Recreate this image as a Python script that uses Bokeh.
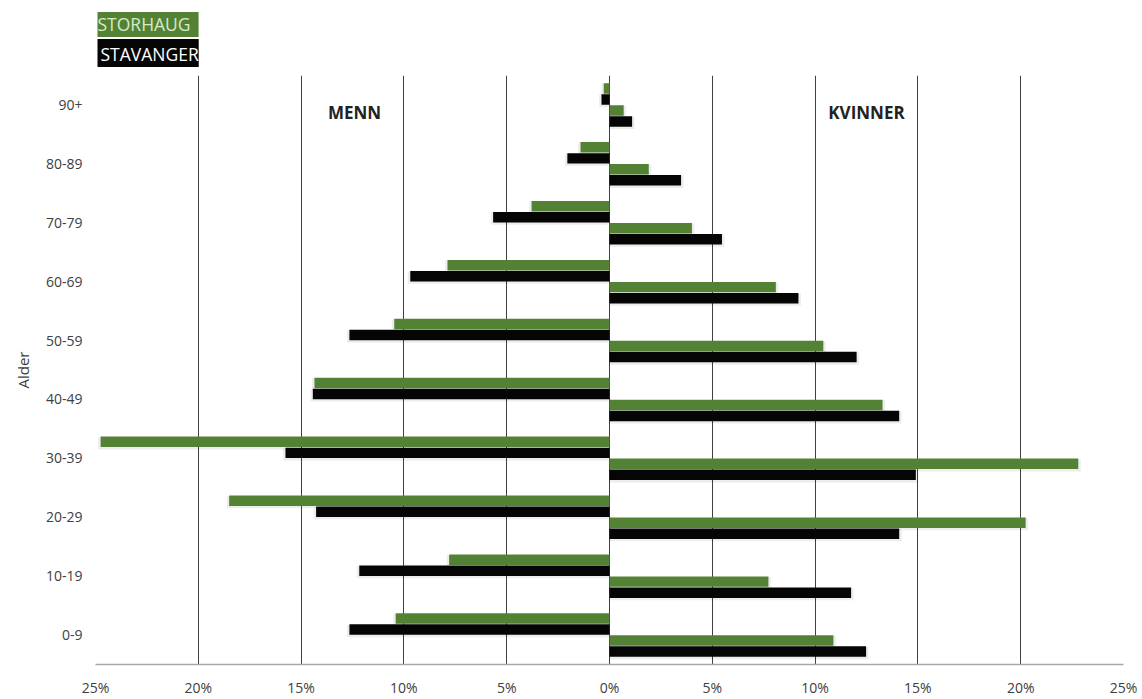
from bokeh.plotting import figure
from bokeh.models import ColumnDataSource, FactorRange, Range1d, FixedTicker, Label, Title
from bokeh.transform import dodge
from bokeh.embed import file_html
from bokeh.resources import INLINE

# ---- data (percent of population) ----
age_groups = ["0-9", "10-19", "20-29", "30-39", "40-49", "50-59", "60-69", "70-79", "80-89", "90+"]
storhaug_menn = [10.4, 7.8, 18.5, 24.75, 14.35, 10.47, 7.88, 3.79, 1.41, 0.28]
stavanger_menn = [12.65, 12.17, 14.27, 15.76, 14.43, 12.65, 9.69, 5.66, 2.05, 0.39]
storhaug_kvinner = [10.89, 7.73, 20.24, 22.8, 13.28, 10.4, 8.09, 4.01, 1.91, 0.69]
stavanger_kvinner = [12.48, 11.75, 14.09, 14.9, 14.09, 12.02, 9.19, 5.47, 3.48, 1.1]
x_ticks = [-25, -20, -15, -10, -5, 0, 5, 10, 15, 20, 25]
series_names = ["STORHAUG", "STAVANGER"]
side_labels = ["MENN", "KVINNER"]
axis_title = "Alder"

GREEN = "#548235"
BLACK = "#050505"
TXT = "#404040"
FONT = "Open Sans"

W, H = 1142, 699
B_LEFT, B_RIGHT, B_TOP, B_BOTTOM = 95, 19, 75, 34
FH = H - B_TOP - B_BOTTOM

src = ColumnDataSource(dict(
    age=age_groups,
    sm=[-v for v in storhaug_menn],
    tm=[-v for v in stavanger_menn],
    sk=storhaug_kvinner,
    tk=stavanger_kvinner,
    sm_sh=[-v - 0.12 for v in storhaug_menn],
    tm_sh=[-v - 0.12 for v in stavanger_menn],
    sk_sh=[v + 0.12 for v in storhaug_kvinner],
    tk_sh=[v + 0.12 for v in stavanger_kvinner],
))

p = figure(width=W, height=H, y_range=FactorRange(factors=age_groups),
           x_range=Range1d(-25, 25), output_backend="svg", toolbar_location=None,
           min_border_left=B_LEFT, min_border_right=B_RIGHT,
           min_border_top=B_TOP, min_border_bottom=B_BOTTOM)
p.outline_line_color = None
p.background_fill_color = "white"
p.border_fill_color = "white"

# bars: (column, offset, colour)
bar_specs = [("sm", 0.28, GREEN), ("tm", 0.093, BLACK), ("sk", -0.093, GREEN), ("tk", -0.28, BLACK)]
BAR_H = 0.178
for col, off, colr in bar_specs:
    p.hbar(y=dodge("age", off - 0.025, range=p.y_range), left=0, right=col + "_sh",
           height=BAR_H + 0.03, source=src, fill_color="#000000", fill_alpha=0.07,
           line_color=None)
for col, off, colr in bar_specs:
    p.hbar(y=dodge("age", off, range=p.y_range), left=0, right=col,
           height=BAR_H, source=src, fill_color=colr, line_color=None)

# x axis
p.xaxis.ticker = FixedTicker(ticks=x_ticks)
p.xaxis.major_label_overrides = {t: f"{abs(t)}%" for t in x_ticks}
p.xaxis.major_tick_out = 0
p.xaxis.major_tick_in = 0
p.xaxis.minor_tick_out = 0
p.xaxis.minor_tick_in = 0
p.xaxis.axis_line_color = "#a6a6a6"
p.xaxis.axis_line_width = 1.5
p.xaxis.major_label_standoff = 13
p.xaxis.major_label_text_font = FONT
p.xaxis.major_label_text_font_size = "14px"
p.xaxis.major_label_text_color = TXT

p.xgrid.grid_line_color = "#404040"
p.xgrid.grid_line_width = 1
p.ygrid.grid_line_color = None

# y axis
p.yaxis.axis_line_color = None
p.yaxis.major_tick_out = 0
p.yaxis.major_tick_in = 0
p.yaxis.major_label_standoff = 13
p.yaxis.major_label_text_font = FONT
p.yaxis.major_label_text_font_size = "14px"
p.yaxis.major_label_text_color = TXT
p.yaxis.axis_label = axis_title
p.yaxis.axis_label_text_font = FONT
p.yaxis.axis_label_text_font_size = "15px"
p.yaxis.axis_label_text_font_style = "normal"
p.yaxis.axis_label_text_color = TXT
p.yaxis.axis_label_standoff = 10

# side labels
p.add_layout(Label(x=-12.4, y=FH - 38, y_units="screen", text=side_labels[0],
                   text_align="center", text_baseline="middle", text_font=FONT,
                   text_font_size="17px", text_font_style="bold", text_color="#222222"))
p.add_layout(Label(x=12.5, y=FH - 38, y_units="screen", text=side_labels[1],
                   text_align="center", text_baseline="middle", text_font=FONT,
                   text_font_size="17px", text_font_style="bold", text_color="#222222"))

# legend boxes above the plot (as titles with coloured backgrounds)
p.add_layout(Title(text=series_names[1], align="left", offset=2, standoff=17,
                   text_font=FONT, text_font_size="17.5px", text_font_style="normal",
                   text_color="#ffffff", background_fill_color=BLACK,
                   padding=(3, 0, 3, 1)), "above")
p.add_layout(Title(text=series_names[0], align="left", offset=2, standoff=-17,
                   text_font=FONT, text_font_size="17.5px", text_font_style="normal",
                   text_color="#d5ebc6", background_fill_color=GREEN,
                   padding=(0, 8, 0, 1)), "above")

open("out.html", "w").write(file_html(p, INLINE))
